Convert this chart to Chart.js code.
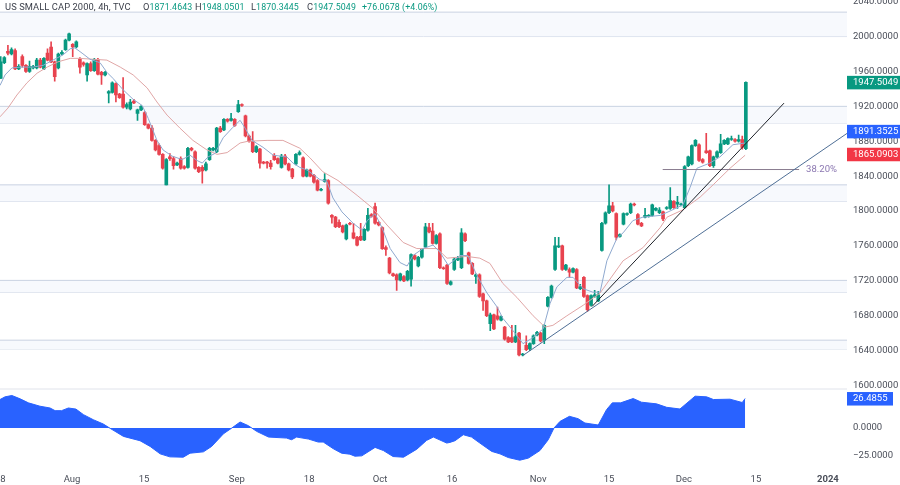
<!DOCTYPE html>
<html>
<head>
<meta charset="utf-8">
<title>US Small Cap 2000, 4h</title>
<script src="https://cdn.jsdelivr.net/npm/chart.js@4"></script>
<style>
    html, body { margin: 0; padding: 0; background: #fff; }
    #wrap { position: relative; width: 900px; height: 485px; overflow: hidden; }
    #c { position: absolute; left: 0; top: 0; }
    #legend { position: absolute; left: 0; top: 1px; height: 13px; font: 9.3px Roboto, sans-serif; letter-spacing: 0.1px; color: #3b3f4a; white-space: nowrap; }
    #legend span { position: absolute; top: 0; }
    #legend b { font-weight: normal; font-size: 8.8px; color: #089981; }
</style>
</head>
<body>
<div id="wrap">
    <canvas id="c" width="900" height="485"></canvas>
    <div id="legend">
        <span style="left:5px">US SMALL CAP 2000, 4h, TVC</span>
        <span style="left:143px">O<b>1871.4643</b></span>
        <span style="left:195px">H<b>1948.0501</b></span>
        <span style="left:251px">L<b>1870.3445</b></span>
        <span style="left:307px">C<b>1947.5049</b></span>
        <span style="left:362px"><b>+76.0678 (+4.06%)</b></span>
    </div>
</div>
<script>
// candles
const opens = [
    1952,1970,1983,1980,1984,1963,1977,1967,1960,1964,
    1964,1973,1963,1981,1988,1971,1964,1980,1985,1996,
    1991,1988,1974,1970,1956,1969,1961,1974,1959,1956,
    1935,1936,1946,1934,1934,1919,1917,1926,1912,1916,
    1913,1899,1895,1881,1875,1865,1830,1862,1860,1853,
    1860,1851,1850,1872,1868,1850,1850,1847,1859,1870,
    1868,1895,1893,1905,1904,1905,1914,1922,1909,1886,
    1880,1868,1871,1856,1856,1855,1864,1860,1850,1863,
    1854,1848,1854,1865,1861,1840,1847,1841,1835,1824,
    1834,1835,1795,1793,1787,1783,1768,1786,1775,1770,
    1771,1767,1778,1796,1805,1787,1781,1758,1746,1728,
    1727,1721,1725,1721,1722,1749,1737,1747,1759,1781,
    1777,1763,1774,1735,1738,1716,1733,1744,1735,1774,
    1752,1740,1725,1727,1705,1697,1671,1681,1680,1675,
    1667,1655,1655,1650,1660,1635,1646,1642,1648,1658,
    1660,1652,1691,1701,1733,1759,1760,1733,1733,1730,
    1733,1711,1724,1703,1692,1702,1697,1755,1786,1798,
    1806,1797,1771,1785,1796,1798,1808,1796,1786,1793,
    1794,1795,1801,1798,1799,1803,1803,1811,1808,1807,
    1804,1852,1854,1875,1876,1859,1869,1869,1852,1862,
    1867,1877,1877,1882,1882,1880,1882,1871.4643
];
const highs = [
    1977,1977,1990,1987,1986,1968,1979,1968,1972,1967,
    1975,1975,1976,1986,1994,1972,1981,1984,1997,2004,
    1992,1995,1976,1971,1970,1971,1975,1975,1960,1960,
    1938,1948,1947,1935,1953,1924,1928,1928,1917,1921,
    1914,1900,1898,1882,1877,1866,1860,1866,1862,1856,
    1862,1852,1873,1873,1869,1851,1852,1856,1873,1873,
    1896,1897,1906,1906,1912,1906,1927,1923,1910,1887,
    1891,1875,1872,1857,1857,1858,1866,1861,1865,1865,
    1855,1849,1866,1869,1862,1848,1848,1842,1836,1826,
    1843,1836,1796,1794,1790,1784,1785,1787,1786,1771,
    1786,1780,1803,1797,1809,1788,1782,1760,1747,1729,
    1728,1729,1726,1732,1751,1750,1748,1757,1786,1786,
    1786,1773,1775,1736,1739,1720,1747,1748,1780,1775,
    1753,1741,1728,1728,1706,1698,1683,1682,1690,1680,
    1668,1656,1669,1669,1661,1637,1657,1649,1658,1662,
    1661,1670,1702,1715,1770,1770,1761,1739,1735,1735,
    1734,1716,1725,1704,1704,1709,1708,1787,1799,1830,
    1810,1798,1774,1798,1798,1809,1809,1797,1787,1803,
    1796,1808,1804,1804,1800,1805,1827,1812,1817,1809,
    1852,1863,1876,1882,1877,1860,1889,1870,1863,1869,
    1888,1882,1884,1886,1883,1887,1886,1948.0501
];
const lows = [
    1952,1969,1979,1979,1962,1962,1965,1959,1959,1963,
    1963,1964,1962,1972,1970,1949,1963,1979,1984,1995,
    1977,1987,1958,1966,1949,1960,1960,1956,1945,1955,
    1924,1935,1925,1929,1918,1917,1916,1923,1904,1915,
    1898,1894,1880,1869,1864,1848,1830,1858,1848,1852,
    1848,1848,1849,1869,1848,1844,1832,1846,1858,1869,
    1867,1890,1892,1902,1903,1897,1913,1920,1885,1879,
    1867,1867,1849,1854,1849,1848,1858,1854,1849,1853,
    1846,1837,1853,1864,1839,1839,1839,1832,1823,1823,
    1833,1808,1786,1781,1781,1775,1767,1784,1768,1760,
    1766,1766,1777,1793,1785,1783,1756,1749,1728,1725,
    1709,1720,1719,1720,1714,1744,1736,1746,1758,1775,
    1762,1762,1734,1733,1716,1715,1732,1743,1734,1765,
    1739,1727,1717,1701,1686,1679,1663,1664,1675,1674,
    1652,1649,1649,1649,1634,1634,1640,1640,1647,1657,
    1650,1648,1690,1700,1732,1758,1732,1732,1724,1729,
    1711,1710,1701,1685,1691,1701,1696,1754,1785,1797,
    1799,1767,1770,1784,1795,1797,1806,1784,1782,1792,
    1793,1794,1800,1797,1789,1802,1802,1803,1803,1806,
    1803,1851,1853,1874,1857,1855,1866,1851,1850,1861,
    1866,1876,1876,1881,1879,1879,1871,1870.3445
];
const closes = [
    1971,1976,1981,1985,1963,1966,1967,1960,1966,1966,
    1973,1965,1975,1973,1971,1954,1980,1982,1996,2003,
    1988,1994,1965,1968,1969,1961,1974,1957,1956,1959,
    1937,1947,1933,1930,1919,1922,1925,1924,1916,1920,
    1899,1895,1881,1870,1865,1849,1859,1860,1852,1855,
    1849,1849,1872,1870,1849,1845,1846,1854,1872,1872,
    1895,1891,1905,1903,1906,1898,1922,1921,1886,1880,
    1868,1874,1855,1855,1855,1851,1859,1855,1863,1854,
    1847,1839,1865,1867,1840,1847,1840,1833,1824,1825,
    1836,1809,1793,1782,1782,1776,1784,1785,1769,1761,
    1767,1779,1795,1794,1786,1784,1757,1756,1729,1726,
    1721,1728,1720,1731,1750,1745,1747,1756,1782,1776,
    1763,1772,1735,1734,1717,1719,1745,1746,1775,1766,
    1740,1728,1727,1702,1697,1680,1681,1665,1676,1679,
    1653,1650,1650,1656,1635,1636,1641,1648,1657,1661,
    1651,1669,1701,1714,1760,1760,1733,1738,1730,1734,
    1712,1713,1702,1687,1703,1704,1704,1786,1798,1806,
    1800,1770,1773,1797,1797,1808,1807,1785,1783,1795,
    1795,1807,1803,1801,1791,1804,1812,1804,1810,1808,
    1851,1862,1875,1881,1858,1856,1867,1852,1862,1868,
    1877,1881,1883,1883,1880,1882,1873,1947.5049
];

// moving averages: bar position / price
const fastBars = [-0.2,1.2,3.1,5.4,9,11.8,14.5,17.3,19.3,20.6,22.6,24.8,27.6,29.5,31.2,34,36.8,39.3,41,43.4,45.1,47.6,50.4,52.6,54.5,56,57.6,59.5,61.8,64.5,66.5,67.9,69.8,72.9,75.7,79.5,81.2,83.1,85.1,88.7,90.6,92.3,94.8,97.9,100.4,101.8,104,105.9,108.2,110.9,112.9,114.5,117.3,120.1,122,124.3,127.6,129.8,132.3,135.1,137.9,139.5,142.3,145.1,147.9,150.7,152.6,154.5,157.3,159,161.8,164.5,166.5,168.4,171.2,172.9,175.6,178.4,183.2,185.4,189.5,191.5,193.4,197,199.8,203.4,206.8];
const fastVals = [1944,1956,1964,1965,1965,1967,1973,1979,1986,1987,1981,1974,1970,1959,1952,1939,1928,1921,1906,1881,1870,1863,1859,1864,1858,1855,1862,1866,1884,1896,1904,1895,1881,1873,1864,1862,1855,1850,1847,1836,1834,1815,1799,1786,1778,1789,1797,1781,1757,1741,1737,1749,1757,1761,1753,1738,1749,1749,1726,1706,1690,1677,1663,1648,1655,1665,1694,1713,1724,1724,1711,1707,1707,1743,1769,1775,1789,1793,1795,1799,1807,1827,1849,1855,1862,1876,1878];
const slowBars = [-0.2,2,4.5,7.3,10.1,12.9,15.9,19.3,22,25.6,29.5,33.2,36.8,40.7,43.4,46.2,49.8,53.4,57.3,60.1,62.9,66.5,68.7,74,78.4,83.1,85.9,89.5,93.7,99,103.4,107.3,111.8,115.6,121.2,124,129.5,133.1,135.9,139.5,143.4,147.9,151.2,153.4,157.3,161.8,166.5,172.9,178.4,183.2,185.1,189.3,194.3,197.9,202.6,206.8];
const slowVals = [1908,1918,1933,1947,1958,1965,1971,1975,1975,1974,1973,1965,1956,1941,1925,1910,1895,1881,1870,1865,1867,1878,1880,1881,1881,1872,1861,1845,1835,1818,1803,1784,1764,1757,1757,1746,1748,1746,1740,1717,1701,1680,1667,1669,1680,1692,1706,1743,1758,1781,1793,1801,1816,1830,1849,1864];

// oscillator panel
const oscBars = [-0.2,1.2,3.1,5.4,7.7,10.9,13.7,15.1,16.9,18.8,20.9,23,25.7,28.5,30.4,34.1,38.7,41.5,44.3,47,50.7,52.6,56.3,58.6,61.9,64.2,66.5,68.8,71.1,74.4,79.4,80.8,82.2,85.5,88.2,89.6,92.4,94.7,97,98.4,100.3,104,106.3,109,111.9,115.6,118.3,120.2,123.9,124.8,126.2,128.5,130.8,133.1,136.4,138.7,141,144.2,146.6,149.8,152.1,153.7,155.4,158,160.4,162.3,166,168.3,169.9,172.2,175.7,178,182.2,185,188.7,192.9,196.1,198,202.6,206,206.8];
const oscVals = [25.6,28,29.2,26.2,22.6,19.6,18,15.6,15.6,18,17,12,7.5,3.6,-0.3,-7.5,-11.4,-16.5,-23.2,-25.9,-26.2,-22.6,-21.4,-16.5,-5.1,0,5.4,2.1,-3,-8.1,-9,-10.5,-8.1,-9.9,-12.6,-12.6,-18.6,-22.6,-23.5,-25.3,-25,-17.4,-20.2,-25.6,-26.2,-19,-11.1,-8.1,-13.5,-12.9,-11.4,-6,-8.1,-13.5,-21,-23.2,-26.5,-28.9,-27,-20.2,-10.5,0,6,10.5,8.4,4.5,2.7,16.5,22.6,22.6,26.5,23.2,21.7,18.6,17.1,28.6,28,25.6,25.9,22.9,26.4855];

// horizontal zones and drawn lines
const zoneTops = [2028,1920,1830,1720.5,1652];
const zoneBottoms = [2000,1901,1811,1707,1642];
const blackTrend = [[164.3,1690.7],[217.6,1923.7]];
const blueTrend = [[145.1,1634.5],[235.1,1889]];
const fibLine = [[183.9,1847.6],[221.8,1847.6]];
const fibLabel = '38.20%';

// time axis
const timeTicks = [0.6,19.8,39.8,65.6,85.7,105.4,125.4,149.3,169,189.8,209.8,229.8];
const timeLabels = ['8','Aug','15','Sep','18','Oct','16','Nov','15','Dec','15','2024'];

// price tags on the right axis
const priceTags = [[1947.5049,'#089981'],[1891.3525,'#2962ff'],[1865.0903,'#f23645']];
const oscTag = 26.4855;

const GREEN = '#089981', RED = '#e8434f';
const barColors = closes.map((c, i) => c >= opens[i] ? GREEN : RED);
const xMin = -0.2, xMax = 235.1;
const TICK_FONT = { family: 'Roboto, sans-serif', size: 9.5 };

function lineSet(points, color, width, order) {
    return { type: 'line', data: points.map(p => ({ x: p[0], y: p[1] })), borderColor: color, borderWidth: width, pointRadius: 0, fill: false, order: order, yAxisID: 'y', tension: 0 };
}
function pair(bars, vals) { return bars.map((b, i) => [b, vals[i]]); }

const datasets = [];
datasets.push(lineSet(blackTrend, '#1f2229', 1, 1));
datasets.push(lineSet(blueTrend, '#4f6f96', 1, 1));
datasets.push(lineSet(fibLine, '#8a7c90', 1, 1));
datasets.push(lineSet(pair(fastBars, fastVals), '#8fa9cf', 1, 4));
datasets.push(lineSet(pair(slowBars, slowVals), '#e0a6a6', 1, 4));
datasets.push({ type: 'bar', data: opens.map((o, i) => ({ x: i, y: [o, closes[i]] })), backgroundColor: barColors, barThickness: 3, grouped: false, order: 5, yAxisID: 'y' });
datasets.push({ type: 'bar', data: lows.map((l, i) => ({ x: i, y: [l, highs[i]] })), backgroundColor: barColors, barThickness: 1, grouped: false, order: 6, yAxisID: 'y' });

// zone edge lines with the pale band between each pair
zoneTops.forEach((top, i) => {
    const a = lineSet([[xMin, top], [xMax, top]], '#c9d2e2', 1, 8);
    a.fill = '+1';
    a.backgroundColor = '#f7f9fd';
    datasets.push(a);
    datasets.push(lineSet([[xMin, zoneBottoms[i]], [xMax, zoneBottoms[i]]], '#c9d2e2', 1, 8));
});

datasets.push({ type: 'line', data: pair(oscBars, oscVals).map(p => ({ x: p[0], y: p[1] })), borderColor: '#2962ff', borderWidth: 1, backgroundColor: '#2962ff', pointRadius: 0, fill: { value: 0 }, order: 2, yAxisID: 'yOsc', tension: 0 });

function fixedAxis(scale) {
    scale.width = 53;
    scale.paddingTop = 0;
    scale.paddingBottom = 0;
}

// right axis tags, the fib text and the panel divider, placed from the scales
const overlay = {
    id: 'overlay',
    afterDraw(chart) {
        const ctx = chart.ctx, y = chart.scales.y, yo = chart.scales.yOsc, x = chart.scales.x;
        const area = chart.chartArea;
        ctx.save();
        ctx.strokeStyle = '#e0e3eb';
        ctx.lineWidth = 1;
        ctx.beginPath();
        ctx.moveTo(0, y.bottom + 0.5);
        ctx.lineTo(area.right, y.bottom + 0.5);
        ctx.stroke();

        ctx.font = '9.5px Roboto, sans-serif';
        ctx.textBaseline = 'middle';
        ctx.fillStyle = '#8a76b0';
        ctx.textAlign = 'left';
        ctx.fillText(fibLabel, x.getPixelForValue(fibLine[1][0]) + 7, y.getPixelForValue(fibLine[1][1]));

        function tag(py, text, color, w) {
            ctx.fillStyle = color;
            ctx.fillRect(area.right, py - 6.5, w, 13.5);
            ctx.fillStyle = '#fff';
            ctx.fillText(text, area.right + 6, py + 0.5);
        }
        priceTags.forEach(t => tag(y.getPixelForValue(t[0]), t[0].toFixed(4), t[1], 53));
        tag(yo.getPixelForValue(oscTag), oscTag.toFixed(4), '#2962ff', 46);
        ctx.restore();
    }
};

new Chart(document.getElementById('c'), {
    type: 'bar',
    data: { datasets: datasets },
    plugins: [overlay],
    options: {
        responsive: false,
        animation: false,
        layout: { padding: 0 },
        plugins: { legend: { display: false }, tooltip: { enabled: false } },
        scales: {
            x: {
                type: 'linear', min: xMin, max: xMax, offset: false,
                grid: { display: false, drawTicks: false }, border: { display: false },
                afterFit(scale) { scale.height = 18; scale.paddingLeft = 0; scale.paddingRight = 0; },
                afterBuildTicks(scale) { scale.ticks = timeTicks.map(v => ({ value: v })); },
                ticks: {
                    autoSkip: false, maxRotation: 0, padding: 7, color: '#4a4e59',
                    font: ctx => ({ ...TICK_FONT, weight: timeLabels[timeTicks.indexOf(ctx.tick && ctx.tick.value)] === '2024' ? 'bold' : 'normal' }),
                    callback: v => timeLabels[timeTicks.indexOf(v)]
                }
            },
            y: {
                type: 'linear', position: 'right', stack: 'panels', stackWeight: 388.5,
                min: 1596.6, max: 2041.9,
                grid: { display: false, drawTicks: false }, border: { display: false },
                afterFit: fixedAxis,
                afterBuildTicks(scale) {
                    const t = [];
                    for (let v = 1600; v <= 2040; v += 40) t.push({ value: v });
                    scale.ticks = t;
                },
                ticks: { padding: 6, color: '#4a4e59', font: TICK_FONT, callback: v => v.toFixed(4) }
            },
            yOsc: {
                type: 'linear', position: 'right', stack: 'panels', stackWeight: 78.5,
                min: -35, max: 35.5,
                grid: { display: false, drawTicks: false }, border: { display: false },
                afterFit: fixedAxis,
                afterBuildTicks(scale) { scale.ticks = [{ value: 0 }, { value: -25 }]; },
                ticks: { padding: 6, color: '#4a4e59', font: TICK_FONT, callback: v => v === 0 ? '0.0000' : '\u221225.0000' }
            }
        }
    }
});
</script>
</body>
</html>
